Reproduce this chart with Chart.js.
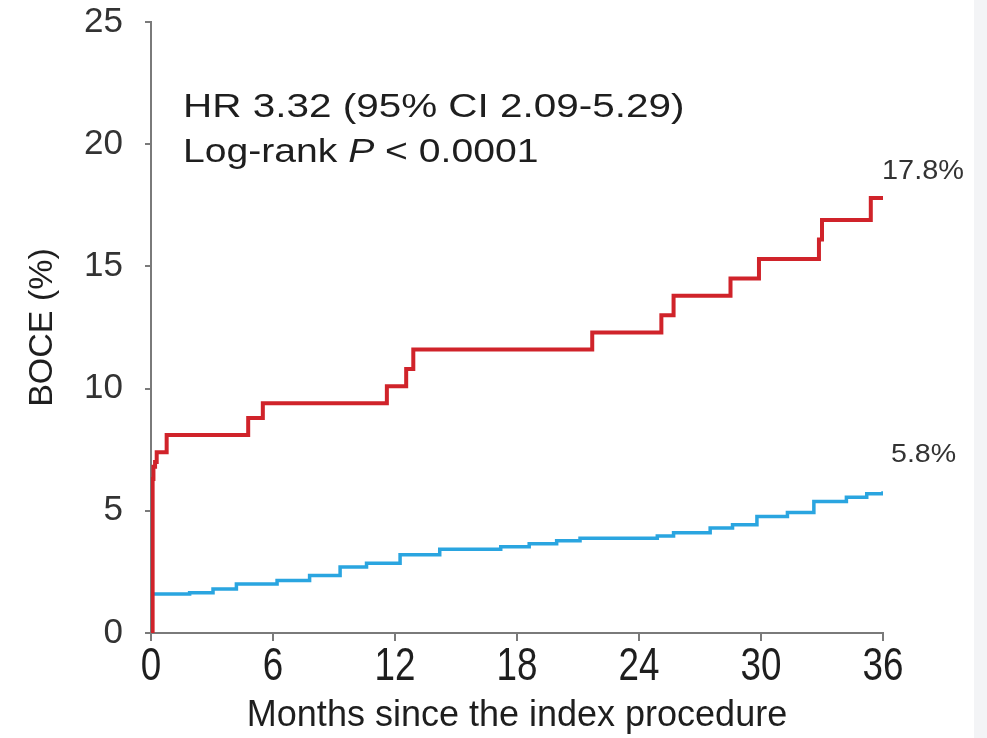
<!DOCTYPE html>
<html>
<head>
<meta charset="utf-8">
<title>BOCE cumulative incidence</title>
<script src="https://cdn.jsdelivr.net/npm/chart.js@4.4.1/dist/chart.umd.min.js"></script>
<style>
  html, body { margin: 0; padding: 0; }
  body { background: linear-gradient(to right, #ffffff 974px, #f3f4f6 974px); }
  #wrap { position: relative; width: 987px; height: 738px; }
</style>
</head>
<body>
<div id="wrap"><canvas id="kmChart"></canvas></div>
<script>
// Kaplan-Meier style step curves, month of event -> cumulative %.
const redMonths = [0, 0.08, 0.12, 0.2, 0.28, 0.77, 4.78, 5.5, 11.6, 12.55, 12.9, 21.7, 25.1, 25.7, 28.5, 29.9, 32.85, 33.0, 35.4, 36];
const redValues = [0, 6.3, 6.8, 7.0, 7.4, 8.1, 8.8, 9.4, 10.1, 10.8, 11.6, 12.3, 13.0, 13.8, 14.5, 15.3, 16.1, 16.9, 17.8, 17.8];

const blueMonths = [0, 1.9, 3.05, 4.2, 6.2, 7.8, 9.3, 10.6, 12.25, 14.2, 17.2, 18.6, 19.95, 21.1, 24.9, 25.7, 27.5, 28.6, 29.8, 31.3, 32.6, 34.2, 35.2, 36];
const blueValues = [1.6, 1.65, 1.8, 2.0, 2.15, 2.35, 2.7, 2.85, 3.2, 3.43, 3.53, 3.65, 3.77, 3.88, 3.97, 4.1, 4.3, 4.43, 4.77, 4.93, 5.38, 5.55, 5.7, 5.8];

const xTicks = [0, 6, 12, 18, 24, 30, 36];
const yTicks = [0, 5, 10, 15, 20, 25];

const statLines = ['HR 3.32 (95% CI 2.09-5.29)', 'Log-rank ', 'P', ' < 0.0001'];

const FONT = '"Liberation Sans", Arial, sans-serif';

function toPoints(xs, ys) {
    return xs.map(function (x, i) { return { x: x, y: ys[i] }; });
}

// draws a string squeezed/stretched horizontally, returns drawn width
function wideText(c, text, x, y, font, sx, align) {
    c.save();
    c.font = font;
    const w = c.measureText(text).width * sx;
    let dx = 0;
    if (align === 'center') dx = -w / 2;
    c.translate(x + dx, y);
    c.scale(sx, 1);
    c.textAlign = 'left';
    c.fillText(text, 0, 0);
    c.restore();
    return w;
}

const notes = {
    id: 'notes',
    afterDraw(chart) {
        const c = chart.ctx;
        const area = chart.chartArea;
        const xs = chart.scales.x, ys = chart.scales.y;
        c.save();
        c.textBaseline = 'alphabetic';

        // month labels, condensed
        c.fillStyle = '#1e1e1e';
        xTicks.forEach(function (m) {
            wideText(c, String(m), xs.getPixelForValue(m), area.bottom + 47, '46px ' + FONT, 0.8, 'center');
        });

        const left = area.left + 32;
        wideText(c, statLines[0], left, area.top + 95, '34px ' + FONT, 1.19);
        let x = left;
        x += wideText(c, statLines[1], x, area.top + 140, '34px ' + FONT, 1.15);
        x += wideText(c, statLines[2], x, area.top + 140, 'italic 34px ' + FONT, 1.15);
        wideText(c, statLines[3], x, area.top + 140, '34px ' + FONT, 1.15);

        // end-of-follow-up percentages
        c.fillStyle = '#333333';
        const redEnd = redValues[redValues.length - 1];
        const blueEnd = blueValues[blueValues.length - 1];
        wideText(c, redEnd.toFixed(1) + '%', xs.getPixelForValue(36) - 1, ys.getPixelForValue(redEnd) - 19,
            '27px ' + FONT, 1.07);
        wideText(c, blueEnd.toFixed(1) + '%', xs.getPixelForValue(36) + 8, ys.getPixelForValue(blueEnd) - 29,
            '26px ' + FONT, 1.1);
        c.restore();
    }
};

const ctx = document.getElementById('kmChart');

new Chart(ctx, {
    type: 'line',
    data: {
        datasets: [
            {
                label: 'High risk',
                data: toPoints(redMonths, redValues),
                borderColor: '#d0232a',
                borderWidth: 4,
                stepped: true,
                pointRadius: 0,
                fill: false
            },
            {
                label: 'Low risk',
                data: toPoints(blueMonths, blueValues),
                borderColor: '#2aa5e0',
                borderWidth: 3.5,
                stepped: true,
                pointRadius: 0,
                fill: false
            }
        ]
    },
    options: {
        responsive: true,
        maintainAspectRatio: false,
        animation: false,
        layout: { padding: { top: 22, right: 104, left: 0, bottom: 0 } },
        plugins: {
            legend: { display: false },
            tooltip: { enabled: false }
        },
        scales: {
            x: {
                type: 'linear',
                min: 0,
                max: 36,
                afterBuildTicks: function (s) { s.ticks = xTicks.map(function (v) { return { value: v }; }); },
                afterFit: function (s) { s.height = 105; s.paddingLeft = 0; s.paddingRight = 0; },
                border: { display: true, color: '#7a7a7a', width: 2 },
                grid: { display: true, drawOnChartArea: false, drawTicks: true, tickLength: 8, color: '#7a7a7a', lineWidth: 2 },
                ticks: { display: false },
                title: {
                    display: true,
                    text: 'Months since the index procedure',
                    color: '#1e1e1e',
                    padding: 0,
                    font: { family: FONT, size: 36 }
                }
            },
            y: {
                min: 0,
                max: 25,
                afterBuildTicks: function (s) { s.ticks = yTicks.map(function (v) { return { value: v }; }); },
                afterFit: function (s) { s.width = 151; s.paddingTop = 0; s.paddingBottom = 0; },
                border: { display: true, color: '#7a7a7a', width: 2 },
                grid: { display: true, drawOnChartArea: false, drawTicks: true, tickLength: 6, color: '#7a7a7a', lineWidth: 2 },
                ticks: {
                    color: '#333',
                    padding: 22,
                    font: { family: FONT, size: 35 }
                },
                title: {
                    display: true,
                    text: 'BOCE (%)',
                    color: '#1e1e1e',
                    padding: { top: 22, bottom: 0 },
                    font: { family: FONT, size: 34 }
                }
            }
        }
    },
    plugins: [notes]
});
</script>
</body>
</html>
